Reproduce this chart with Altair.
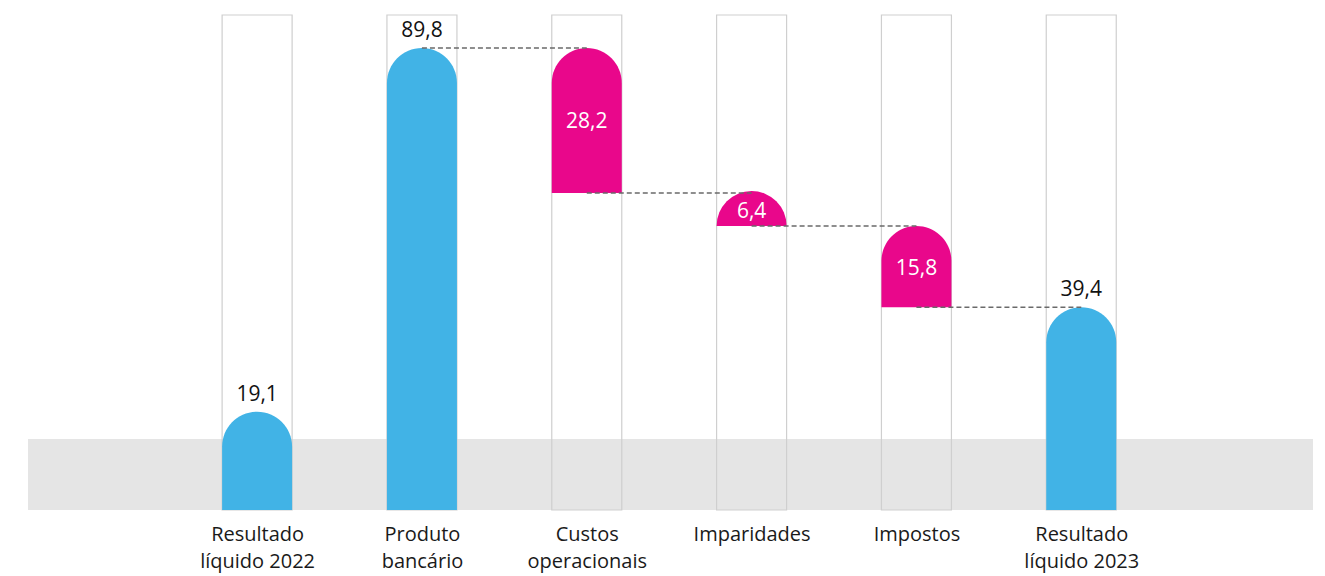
import json
import math
import altair as alt
import pandas as pd

# ---- data ----
categories = ["Resultado líquido 2022", "Produto bancário", "Custos operacionais",
              "Imparidades", "Impostos", "Resultado líquido 2023"]
label_lines = [["Resultado", "líquido 2022"], ["Produto", "bancário"], ["Custos", "operacionais"],
               ["Imparidades"], ["Impostos"], ["Resultado", "líquido 2023"]]
values = [19.1, 89.8, -28.2, -6.4, -15.8, 39.4]
kinds = ["total", "total", "delta", "delta", "delta", "total"]
value_labels = ["19,1", "89,8", "28,2", "6,4", "15,8", "39,4"]
frame_top = 96.2      # top of the outline boxes
band_top = 13.8       # top of the grey band
X_DOMAIN = [-1.39, 6.406]

W, H = 1285, 495
BAR_W = 70
RADIUS = BAR_W / 2
radius_units = RADIUS / (H / frame_top)   # bar height below which the top is a dome

# running waterfall
rows = []
prev_end = 0.0
for i, (c, v, k, lab) in enumerate(zip(categories, values, kinds, value_labels)):
    if k == "total":
        start, end = 0.0, v
    else:
        start, end = prev_end, prev_end + v
    rows.append(dict(idx=i, cat=c, start=start, end=end, kind=k, label=lab,
                     mid=(start + end) / 2, top=max(start, end), bottom=min(start, end),
                     dome=abs(v) < radius_units))
    prev_end = end
df = pd.DataFrame(rows)

conn = pd.DataFrame([dict(x=i, x2=i + 1, level=rows[i]["end"]) for i in range(1, len(rows) - 1)])
band = pd.DataFrame([dict(x=X_DOMAIN[0], x2=X_DOMAIN[1], y=0, y2=band_top)])
frames = pd.DataFrame([dict(idx=i, y=0, y2=frame_top) for i in range(len(categories))])

FONT = "Open Sans"
FS = 21
xscale = alt.Scale(domain=X_DOMAIN, nice=False, zero=False, padding=0)
yscale = alt.Scale(domain=[0, frame_top], nice=False, zero=True, padding=0)
label_expr = json.dumps(label_lines, ensure_ascii=False) + "[datum.value]"

xaxis = alt.Axis(values=list(range(len(categories))), labelExpr=label_expr, title=None,
                 ticks=False, domain=False, grid=False, labelFontSize=20, labelFont=FONT,
                 labelColor="#1a1a1a", labelBaseline="top", labelPadding=14, labelLineHeight=27.5,
                 labelOverlap=False, labelBound=False, labelFlush=False)

color = alt.Color("kind:N", scale=alt.Scale(domain=["total", "delta"],
                                            range=["#41b3e6", "#e9078b"]), legend=None)

band_layer = alt.Chart(band).mark_rect(color="#e5e5e5").encode(
    x=alt.X("x:Q", scale=xscale, axis=xaxis), x2="x2:Q",
    y=alt.Y("y:Q", scale=yscale, axis=None), y2="y2:Q")

frame_layer = alt.Chart(frames).mark_bar(size=BAR_W, fill="transparent", stroke="#cfcfcf",
                                         strokeWidth=1.2).encode(
    x=alt.X("idx:Q", scale=xscale), y=alt.Y("y:Q", scale=yscale), y2="y2:Q")

bar_layer = alt.Chart(df).transform_filter("!datum.dome").mark_bar(
    size=BAR_W, cornerRadiusTopLeft=RADIUS, cornerRadiusTopRight=RADIUS).encode(
    x=alt.X("idx:Q", scale=xscale),
    y=alt.Y("start:Q", scale=yscale), y2="end:Q", color=color)

dome_layer = alt.Chart(df).transform_filter("datum.dome").mark_arc(
    radius=RADIUS, theta=1.5 * math.pi, theta2=2.5 * math.pi).encode(
    x=alt.X("idx:Q", scale=xscale), y=alt.Y("bottom:Q", scale=yscale), color=color)

conn_layer = alt.Chart(conn).mark_rule(color="#6a6a6a", strokeWidth=1.6, strokeDash=[5, 3]).encode(
    x=alt.X("x:Q", scale=xscale), x2="x2:Q", y=alt.Y("level:Q", scale=yscale))

total_text = alt.Chart(df).transform_filter("datum.kind == 'total'").mark_text(
    font=FONT, fontSize=FS, color="#111111", baseline="alphabetic", dy=-11).encode(
    x=alt.X("idx:Q", scale=xscale), y=alt.Y("top:Q", scale=yscale), text="label:N")

delta_text = alt.Chart(df).transform_filter("datum.kind == 'delta'").mark_text(
    font=FONT, fontSize=FS, color="white", baseline="middle", dy=2).encode(
    x=alt.X("idx:Q", scale=xscale), y=alt.Y("mid:Q", scale=yscale), text="label:N")

chart = alt.layer(band_layer, frame_layer, bar_layer, dome_layer, conn_layer,
                  total_text, delta_text).properties(
    width=W, height=H,
    padding={"left": 20, "top": 6, "right": 0, "bottom": 6},
).configure(font=FONT).configure_view(stroke=None)

chart.save("out.html", embed_options={"renderer": "svg", "actions": False})
